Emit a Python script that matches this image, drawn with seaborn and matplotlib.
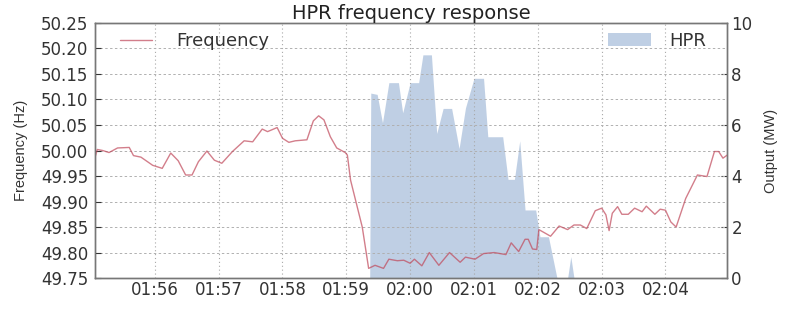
import matplotlib
matplotlib.use("Agg")
import matplotlib.pyplot as plt
import matplotlib.dates as mdates
import seaborn as sns
import pandas as pd

# ---- data ----
freq_times = ["01:55:04", "01:55:06", "01:55:11", "01:55:17", "01:55:25", "01:55:36", "01:55:40",
              "01:55:47", "01:55:58", "01:56:07", "01:56:15", "01:56:22", "01:56:29", "01:56:35",
              "01:56:41", "01:56:49", "01:56:56", "01:57:03", "01:57:13", "01:57:24", "01:57:32",
              "01:57:41", "01:57:46", "01:57:55", "01:58:00", "01:58:06", "01:58:12", "01:58:23",
              "01:58:29", "01:58:34", "01:58:39", "01:58:45", "01:58:51", "01:58:59", "01:59:01",
              "01:59:04", "01:59:15", "01:59:21", "01:59:27", "01:59:35", "01:59:40", "01:59:48",
              "01:59:54", "02:00:00", "02:00:04", "02:00:11", "02:00:18", "02:00:27", "02:00:37",
              "02:00:47", "02:00:52", "02:01:01", "02:01:09", "02:01:19", "02:01:30", "02:01:35",
              "02:01:42", "02:01:48", "02:01:51", "02:01:55", "02:01:59", "02:02:01", "02:02:12",
              "02:02:20", "02:02:28", "02:02:34", "02:02:40", "02:02:46", "02:02:54", "02:03:00",
              "02:03:04", "02:03:07", "02:03:10", "02:03:15", "02:03:19", "02:03:25", "02:03:31",
              "02:03:38", "02:03:42", "02:03:50", "02:03:55", "02:04:00", "02:04:05", "02:04:10",
              "02:04:19", "02:04:30", "02:04:39", "02:04:46", "02:04:50", "02:04:54", "02:04:58"]
freq_values = [49.988, 50.002, 50.000, 49.996, 50.005, 50.006, 49.990,
               49.987, 49.971, 49.965, 49.995, 49.980, 49.952, 49.952,
               49.978, 49.999, 49.981, 49.975, 49.998, 50.019, 50.017,
               50.042, 50.037, 50.045, 50.024, 50.016, 50.019, 50.021,
               50.058, 50.068, 50.060, 50.027, 50.005, 49.996, 49.991,
               49.942, 49.850, 49.769, 49.775, 49.769, 49.787, 49.784,
               49.785, 49.779, 49.787, 49.774, 49.800, 49.775, 49.800,
               49.781, 49.791, 49.787, 49.798, 49.800, 49.796, 49.819,
               49.802, 49.826, 49.826, 49.807, 49.806, 49.845, 49.832,
               49.852, 49.845, 49.854, 49.854, 49.847, 49.882, 49.887,
               49.874, 49.843, 49.877, 49.890, 49.875, 49.875, 49.887,
               49.880, 49.891, 49.875, 49.885, 49.883, 49.860, 49.850,
               49.906, 49.952, 49.949, 49.998, 49.998, 49.985, 49.991]

hpr_times = ["01:55:04", "01:59:22", "01:59:23", "01:59:29", "01:59:34", "01:59:40", "01:59:49",
             "01:59:53", "02:00:00", "02:00:08", "02:00:12", "02:00:20", "02:00:25", "02:00:31",
             "02:00:39", "02:00:46", "02:00:52", "02:01:00", "02:01:09", "02:01:13", "02:01:27",
             "02:01:32", "02:01:38", "02:01:43", "02:01:48", "02:01:58", "02:02:02", "02:02:10",
             "02:02:18", "02:02:28", "02:02:31", "02:02:34", "02:04:58"]
hpr_values = [0.0, 0.0, 7.25, 7.2, 6.09, 7.66, 7.66,
              6.48, 7.66, 7.66, 8.75, 8.75, 5.67, 6.65,
              6.65, 5.08, 6.67, 7.83, 7.83, 5.54, 5.54,
              3.87, 3.87, 5.38, 2.67, 2.67, 1.62, 1.62,
              0.0, 0.0, 0.84, 0.0, 0.0]

title = "HPR frequency response"
left_label = "Frequency (Hz)"
right_label = "Output (MW)"
freq_ticks = [49.75, 49.80, 49.85, 49.90, 49.95, 50.00, 50.05, 50.10, 50.15, 50.20, 50.25]
hpr_ticks = [0, 2, 4, 6, 8, 10]

day = "2017-01-01 "
freq_df = pd.DataFrame({"time": pd.to_datetime([day + t for t in freq_times]),
                        "Frequency": freq_values})
hpr_df = pd.DataFrame({"time": pd.to_datetime([day + t for t in hpr_times]),
                       "HPR": hpr_values})

sns.set_style("white")
plt.rcParams["font.family"] = ["DejaVu Sans"]

fig = plt.figure(figsize=(8, 3.1), dpi=100)
ax1 = fig.add_axes([0.119, 0.103, 0.790, 0.823])
ax2 = ax1.twinx()

# HPR area on the right axis (drawn beneath)
ax2.fill_between(hpr_df["time"], 0, hpr_df["HPR"], color="#b0c4de", alpha=0.8,
                 linewidth=0, label="HPR")
ax2.set_ylim(0, 10)
ax2.set_yticks(hpr_ticks)

# Frequency line on the left axis (drawn on top)
ax1.set_zorder(ax2.get_zorder() + 1)
ax1.patch.set_visible(False)
sns.lineplot(data=freq_df, x="time", y="Frequency", ax=ax1, color="#c0485a",
             alpha=0.7, linewidth=1.0, label="Frequency")
ax1.set_ylim(49.75, 50.25)
ax1.set_yticks(freq_ticks)
ax1.set_yticklabels([f"{v:.2f}" for v in freq_ticks])
ax1.set_xlim(pd.Timestamp(day + "01:55:04"), pd.Timestamp(day + "02:04:58"))
ax1.xaxis.set_major_locator(mdates.MinuteLocator())
ax1.xaxis.set_major_formatter(mdates.DateFormatter("%H:%M"))
ax1.set_xlabel("")

# grid
ax1.yaxis.grid(True, linestyle=(0, (2.5, 2.5)), color="#b0b0b0", linewidth=0.7)
ax1.xaxis.grid(True, linestyle=(0, (1, 2.5)), color="#a8a8a8", linewidth=0.8)

tick_col = "#333333"
for ax in (ax1, ax2):
    ax.tick_params(axis="both", labelsize=12, colors=tick_col, direction="in",
                   length=4, width=0.8)
    for sp in ax.spines.values():
        sp.set_color("#777777")
        sp.set_linewidth(1.0)
ax1.tick_params(axis="x", pad=2)
ax1.tick_params(axis="y", pad=5)
ax2.tick_params(axis="y", pad=3)

ax1.set_ylabel(left_label, fontsize=10.5, color=tick_col, family=["Liberation Sans"], labelpad=9)
ax2.set_ylabel(right_label, fontsize=10.5, color=tick_col, family=["Liberation Sans"], labelpad=8)
ax1.set_title(title, fontsize=14, color="#222222", pad=2)

leg1 = ax1.legend(loc="upper left", frameon=False, fontsize=13, handlelength=1.8,
                  handletextpad=1.3, borderaxespad=0.3, bbox_to_anchor=(0.019, 1.014))
for t in leg1.get_texts():
    t.set_color(tick_col)
leg2 = ax2.legend(loc="upper right", frameon=False, fontsize=13, handlelength=2.4,
                  handletextpad=1.0, borderaxespad=0.3, bbox_to_anchor=(0.987, 1.014))
for t in leg2.get_texts():
    t.set_color(tick_col)

fig.savefig("out.png", dpi=100)
